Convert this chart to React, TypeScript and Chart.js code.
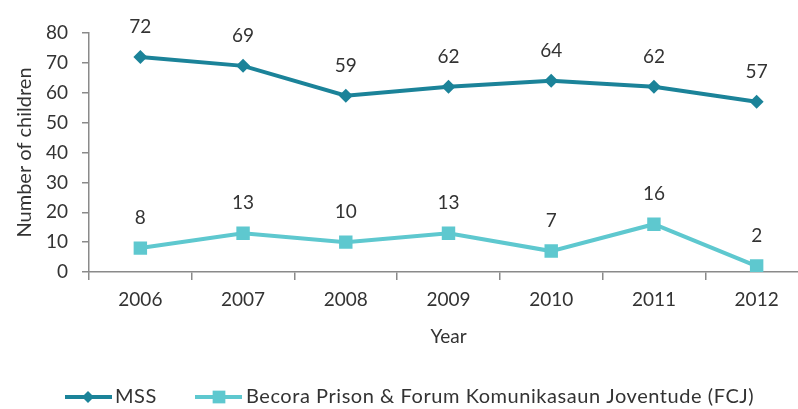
import React, { useEffect, useRef } from "react";
import { Chart, registerables } from "chart.js";

Chart.register(...registerables);

const years = ["2006", "2007", "2008", "2009", "2010", "2011", "2012"];
const mss = [72, 69, 59, 62, 64, 62, 57];
const becora = [8, 13, 10, 13, 7, 16, 2];
const seriesNames = ["MSS", "Becora Prison & Forum Komunikasaun Joventude (FCJ)"];
const yTitle = "Number of children";
const xTitle = "Year";

const FONT = "Lato";
const DARK = "#1b8399";
const LIGHT = "#5ec8cf";
const TEXT = "#333333";
const AXIS = "#8a8a8a";

const labelsPlugin = {
  id: "pointLabels",
  afterDatasetsDraw(chart: any) {
    const ctx = chart.ctx;
    ctx.save();
    ctx.font = `19px ${FONT}`;
    ctx.fillStyle = TEXT;
    ctx.textAlign = "center";
    ctx.textBaseline = "middle";
    chart.data.datasets.forEach((ds: any, i: number) => {
      const meta = chart.getDatasetMeta(i);
      meta.data.forEach((pt: any, j: number) => {
        ctx.fillText(String(ds.data[j]), pt.x, pt.y - 30);
      });
    });
    ctx.restore();
  },
};

const legendPlugin = {
  id: "customLegend",
  afterDraw(chart: any) {
    const ctx = chart.ctx;
    const y = 397;
    const items = [
      { x0: 65, x1: 112, mx: 88, tx: 115, color: DARK, style: "rectRot", r: 6 },
      { x0: 195, x1: 242, mx: 219, tx: 246, color: LIGHT, style: "rect", r: 9 },
    ];
    ctx.save();
    items.forEach((it, i) => {
      ctx.strokeStyle = it.color;
      ctx.lineWidth = 4;
      ctx.beginPath();
      ctx.moveTo(it.x0, y);
      ctx.lineTo(it.x1, y);
      ctx.stroke();
      ctx.fillStyle = it.color;
      ctx.beginPath();
      if (it.style === "rectRot") {
        ctx.moveTo(it.mx, y - it.r);
        ctx.lineTo(it.mx + it.r, y);
        ctx.lineTo(it.mx, y + it.r);
        ctx.lineTo(it.mx - it.r, y);
        ctx.closePath();
      } else {
        const s = it.r * Math.SQRT1_2;
        ctx.rect(it.mx - s, y - s, 2 * s, 2 * s);
      }
      ctx.fill();
      ctx.font = `20px ${FONT}`;
      (ctx as any).letterSpacing = "0.55px";
      ctx.fillStyle = TEXT;
      ctx.textAlign = "left";
      ctx.textBaseline = "middle";
      ctx.fillText(chart.data.datasets[i].label, it.tx, y);
      (ctx as any).letterSpacing = "0px";
    });
    ctx.restore();
  },
};

export default function App() {
  const ref = useRef<HTMLCanvasElement>(null);
  useEffect(() => {
    const canvas = ref.current!;
    const chart = new Chart(canvas, {
      type: "line",
      data: {
        labels: years,
        datasets: [
          {
            label: seriesNames[0],
            data: mss,
            borderColor: DARK,
            backgroundColor: DARK,
            borderWidth: 4,
            pointStyle: "rectRot",
            pointRadius: 7,
            pointBorderWidth: 0,
            tension: 0,
          },
          {
            label: seriesNames[1],
            data: becora,
            borderColor: LIGHT,
            backgroundColor: LIGHT,
            borderWidth: 4,
            pointStyle: "rect",
            pointRadius: 9.5,
            pointBorderWidth: 0,
            tension: 0,
          },
        ],
      },
      options: {
        responsive: false,
        animation: false,
        layout: { padding: { top: 33, right: 22, bottom: 60, left: 0 } },
        plugins: {
          legend: { display: false },
          tooltip: { enabled: false },
        },
        scales: {
          x: {
            offset: true,
            grid: {
              display: true,
              drawOnChartArea: false,
              drawTicks: true,
              tickLength: 8,
              color: AXIS,
              lineWidth: 1.5,
              offset: true,
            },
            border: { display: true, color: AXIS, width: 1.5 },
            ticks: {
              color: TEXT,
              font: { family: FONT, size: 19 },
              padding: 8,
              maxRotation: 0,
            },
            title: {
              display: true,
              text: xTitle,
              color: TEXT,
              font: { family: FONT, size: 19 },
              padding: { top: 0, bottom: 1 },
            },
            afterFit: (s: any) => {
              s.height = 77;
            },
          },
          y: {
            min: 0,
            max: 80,
            grid: {
              display: true,
              drawOnChartArea: false,
              drawTicks: true,
              tickLength: 7,
              color: AXIS,
              lineWidth: 1.5,
            },
            border: { display: true, color: AXIS, width: 1.5 },
            ticks: {
              stepSize: 10,
              color: TEXT,
              font: { family: FONT, size: 19 },
              padding: 14,
            },
            title: {
              display: true,
              text: yTitle,
              color: TEXT,
              font: { family: FONT, size: 20 },
              padding: { top: 13, bottom: 0 },
            },
            afterFit: (s: any) => {
              s.width = 89;
            },
          },
        },
      },
      plugins: [labelsPlugin, legendPlugin],
    });
    return () => chart.destroy();
  }, []);
  return (
    <div
      style={{
        position: "fixed",
        left: 0,
        top: 0,
        width: 798,
        height: 409,
        overflow: "hidden",
        background: "#fff",
      }}
    >
      <canvas ref={ref} width={830} height={409} style={{ display: "block" }} />
    </div>
  );
}
